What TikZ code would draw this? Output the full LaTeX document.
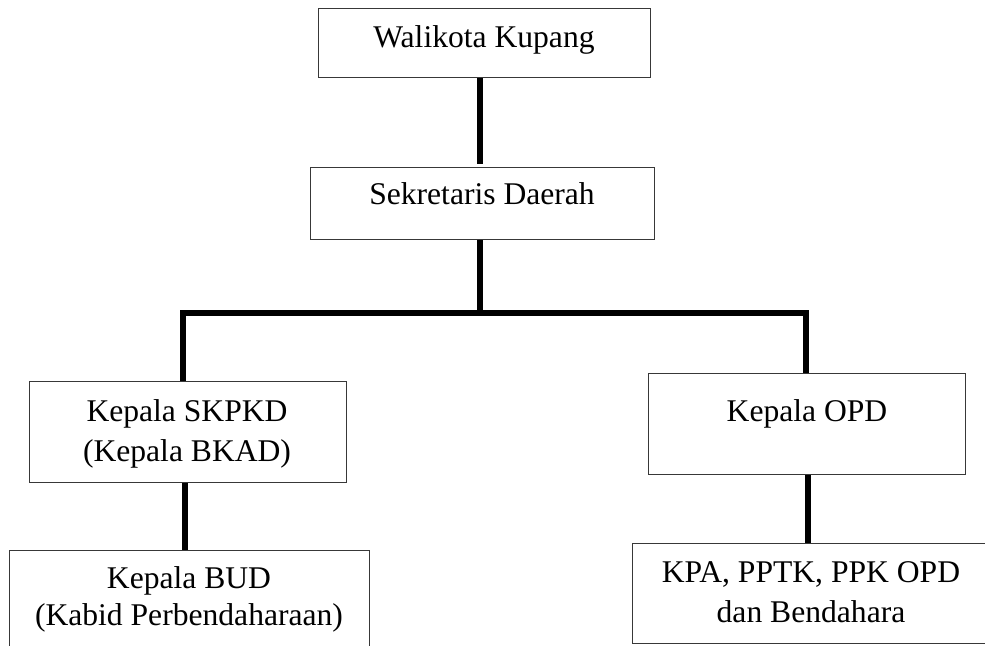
\documentclass[tikz,border=0pt]{standalone}
\usepackage{fontspec}
\setmainfont{Liberation Serif}
\usetikzlibrary{calc}
\tikzset{
  orgbox/.style={draw=black!78, line width=0.65pt, rectangle, inner sep=0pt, anchor=north west, fill=white},
  lbl/.style={anchor=base, inner sep=0pt, font=\fontsize{15.8}{19}\selectfont},
  conn/.style={draw=black, line width=2.9pt, line join=miter}
}
\begin{document}
\begin{tikzpicture}[x=0.5pt, y=-0.5pt]
\useasboundingbox (0,0) rectangle (985,646);
\clip (0,0) rectangle (985,646);
% boxes
\node[orgbox, minimum width=166pt, minimum height=34.5pt] (b1) at (318,8) {};
\node[orgbox, minimum width=172pt, minimum height=36pt] (b2) at (310,167) {};
\node[orgbox, minimum width=158.5pt, minimum height=50.5pt] (b3) at (29,381) {};
\node[orgbox, minimum width=158.5pt, minimum height=50.5pt] (b4) at (648,373) {};
\node[orgbox, minimum width=180pt, minimum height=60pt] (b5) at (9,550) {};
\node[orgbox, minimum width=179pt, minimum height=50pt] (b6) at (632,543) {};
% texts
\node[lbl] (t1) at (484,48) {Walikota Kupang};
\node[lbl] (t2) at (482,205) {Sekretaris Daerah};
\node[lbl] (t3a) at (187,422) {Kepala SKPKD};
\node[lbl] (t3b) at (187,461) {(Kepala BKAD)};
\node[lbl] (t4) at (807,422) {Kepala OPD};
\node[lbl] (t5a) at (189,588) {Kepala BUD};
\node[lbl] (t5b) at (189,625) {(Kabid Perbendaharaan)};
\node[lbl] (t6a) at (811,582) {KPA, PPTK, PPK OPD};
\node[lbl] (t6b) at (811,622) {dan Bendahara};
% junctions
\coordinate (j) at (480,313);
\coordinate (jl) at (183,313);
\coordinate (jr) at (806,313);
\coordinate (s1) at (480,0);
\coordinate (s3) at (185,0);
\coordinate (s4) at (808,0);
% connectors
\draw[conn] (b1.south -| s1) -- ($(b2.north -| s1)+(0,-3)$);
\draw[conn] (b2.south -| s1) -- (j);
\draw[conn] (b3.north -| jl) -- (jl) -- (jr) -- (b4.north -| jr);
\draw[conn] (b3.south -| s3) -- (b5.north -| s3);
\draw[conn] (b4.south -| s4) -- (b6.north -| s4);
\end{tikzpicture}
\end{document}
